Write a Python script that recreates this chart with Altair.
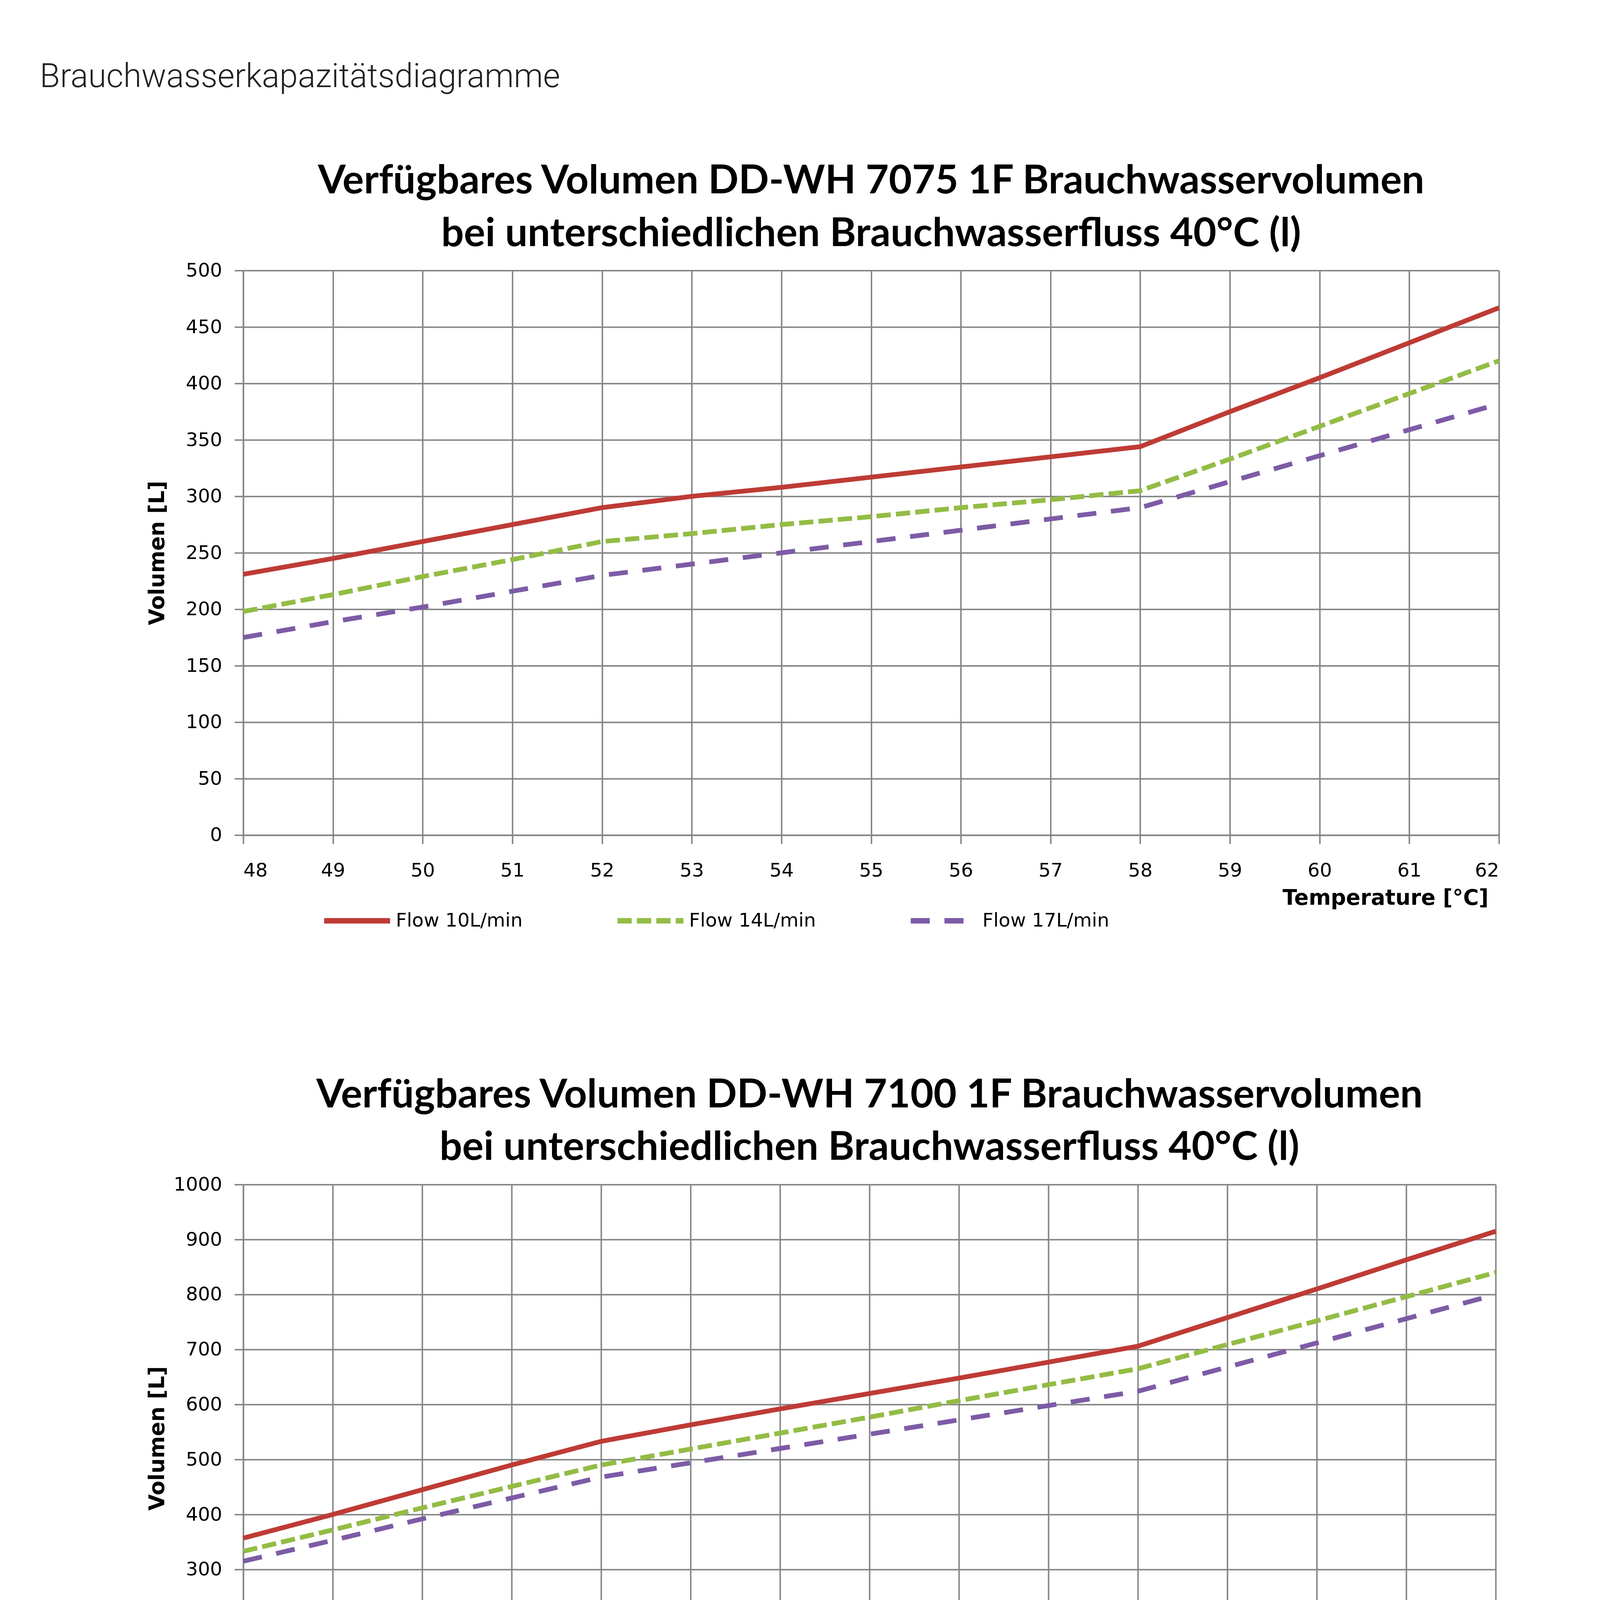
import altair as alt
import pandas as pd

# ---------------- data ----------------
temps = list(range(48, 63))
series_names = ["Flow 10L/min", "Flow 14L/min", "Flow 17L/min"]
series_colors = ["#BE3B35", "#93BC45", "#7D5BA6"]
series_dashes = [[1, 0], [39, 14], [52, 40]]

# chart 1 : DD-WH 7075
c1_flow10 = [231, 245, 260, 275, 290, 300, 308, 317, 326, 335, 344, 375, 405, 436, 467]
c1_flow14 = [198, 213, 229, 244, 260, 267, 275, 282, 290, 297, 305, 333, 362, 391, 420]
c1_flow17 = [175, 189, 202, 216, 230, 240, 250, 260, 270, 280, 290, 313, 336, 359, 382]

# chart 2 : DD-WH 7100
c2_flow10 = [357, 400, 445, 490, 533, 563, 592, 620, 648, 677, 706, 758, 810, 863, 915]
c2_flow14 = [333, 372, 412, 451, 490, 519, 548, 577, 607, 636, 665, 709, 752, 796, 840]
c2_flow17 = [315, 353, 392, 430, 468, 494, 520, 546, 572, 598, 624, 668, 712, 756, 800]

y1_ticks = list(range(0, 501, 50))
y2_ticks = list(range(0, 1001, 100))

header_text = "Brauchwasserkapazitätsdiagramme"
title1 = ["Verfügbares Volumen DD-WH 7075 1F Brauchwasservolumen",
          "bei unterschiedlichen Brauchwasserfluss 40°C (l)"]
title2 = ["Verfügbares Volumen DD-WH 7100 1F Brauchwasservolumen",
          "bei unterschiedlichen Brauchwasserfluss 40°C (l)"]
x_title = "Temperature [°C]"
y_title = "Volumen [L]"

GRID = "#858585"


def make_df(values):
    rows = []
    for name, vals in zip(series_names, values):
        for t, v in zip(temps, vals):
            rows.append({"temp": t, "vol": v, "series": name})
    return pd.DataFrame(rows)


def panel(df, title, ymax, yticks, width, height, legend_x, legend_y,
          xtitle_x, xtitle_y, ytitle_y, xlabel_pad):
    legend = alt.Legend(
        title=None, orient="none", legendX=legend_x, legendY=legend_y,
        direction="horizontal", symbolType="stroke", symbolSize=32400,
        symbolStrokeWidth=15, labelFont="DejaVu Sans", labelFontSize=52,
        labelColor="#000000", labelOffset=8, columnPadding=228,
        labelLimit=1000, padding=0,
    )
    return alt.Chart(
        df,
        title=alt.TitleParams(
            text=title, font="Lato", fontSize=109, fontWeight="bold",
            color="#000000", lineHeight=143, anchor="middle",
            baseline="bottom", offset=-91,
        ),
    ).mark_line(strokeWidth=13, strokeJoin="round", strokeCap="butt").encode(
        x=alt.X(
            "temp:Q",
            scale=alt.Scale(domain=[48, 62], nice=False, zero=False),
            axis=alt.Axis(
                values=temps, format="d", title=x_title,
                titleX=xtitle_x, titleY=xtitle_y, titleAlign="right",
                titleBaseline="middle", labelPadding=xlabel_pad,
            ),
        ),
        y=alt.Y(
            "vol:Q",
            scale=alt.Scale(domain=[0, ymax], nice=False),
            axis=alt.Axis(
                values=yticks, format="d", title=y_title,
                titleX=-234, titleY=ytitle_y, titleAlign="center",
                titleBaseline="middle", titleAngle=270, labelPadding=34,
            ),
        ),
        color=alt.Color("series:N",
                        scale=alt.Scale(domain=series_names, range=series_colors),
                        legend=legend),
        strokeDash=alt.StrokeDash("series:N",
                                  scale=alt.Scale(domain=series_names, range=series_dashes),
                                  legend=legend),
    ).properties(width=width, height=height)


chart1 = panel(make_df([c1_flow10, c1_flow14, c1_flow17]), title1, 500, y1_ticks,
               3425, 1540, 213, 1676, 3396, 172, 770, 48)
chart2 = panel(make_df([c2_flow10, c2_flow14, c2_flow17]), title2, 1000, y2_ticks,
               3416, 1500, 225, 1614, 3469, 194, 692, 43)

chart = alt.vconcat(
    chart1, chart2, spacing=392,
    title=alt.TitleParams(
        text=header_text, font="Roboto", fontWeight=300, fontSize=90,
        color="#231F20", anchor="start", baseline="top", dx=-292, offset=184,
    ),
).resolve_scale(
    color="independent", strokeDash="independent"
).resolve_legend(
    color="independent", strokeDash="independent"
).properties(
    padding={"left": 100, "top": 0, "right": 223, "bottom": 0},
    background="#FFFFFF",
).configure_view(
    strokeWidth=0
).configure_axis(
    labelFont="DejaVu Sans", labelFontSize=52, labelColor="#000000",
    titleFont="DejaVu Sans", titleFontSize=58, titleFontWeight="bold",
    titleColor="#000000",
    grid=True, gridColor=GRID, gridWidth=4, gridOpacity=1,
    domainColor=GRID, domainWidth=4,
    tickColor=GRID, tickWidth=4, tickSize=24,
    labelOverlap=False,
)

chart.save("out.html", embed_options={"renderer": "svg", "actions": False})
